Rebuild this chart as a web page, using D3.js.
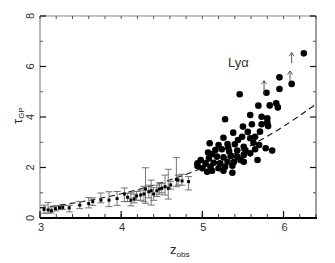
<!DOCTYPE html>
<html>
<head>
<meta charset="utf-8">
<script src="https://cdn.jsdelivr.net/npm/d3@7"></script>
<style>
  body { margin: 0; background: #fff; }
  svg { display: block; font-family: "Liberation Sans", Arial, sans-serif; }
</style>
</head>
<body>
<svg id="chart" width="335" height="263"></svg>
<script>
// high-z quasars (filled dots)
var zHi = [6.25, 6.10, 5.95, 5.95, 5.79, 5.46, 5.69, 5.83, 5.91, 5.93, 5.59, 5.73, 5.80, 5.80,
  5.28, 5.50, 5.61, 5.73, 5.81, 5.38, 5.26, 5.49, 5.71, 5.59, 5.09, 5.20, 5.31, 5.40, 5.51,
  5.63, 5.07, 5.16, 5.24, 5.33, 5.43, 5.53, 5.65, 4.98, 5.08, 5.18, 5.26, 5.35, 5.43, 5.51,
  5.59, 4.94, 5.04, 5.14, 5.22, 5.31, 5.39, 5.47, 5.00, 5.10, 5.20, 5.28, 5.37, 5.12, 5.37,
  5.26, 5.51, 5.68, 5.78, 5.86, 5.70, 5.65, 5.06, 4.94, 5.12, 5.32, 5.44, 5.56];
var tauHi = [6.52, 5.31, 5.57, 5.11, 4.96, 4.90, 4.45, 4.46, 4.54, 4.38, 4.08, 4.01, 3.95, 3.79,
  3.91, 3.62, 3.71, 3.71, 3.64, 3.38, 3.18, 3.22, 3.42, 3.16, 2.96, 2.89, 2.93, 2.92, 2.82,
  2.98, 2.59, 2.69, 2.72, 2.63, 2.67, 2.69, 2.72, 2.30, 2.36, 2.43, 2.40, 2.46, 2.43, 2.50,
  2.56, 2.17, 2.17, 2.19, 2.17, 2.23, 2.23, 2.30, 1.97, 2.03, 1.97, 2.03, 2.07, 1.87, 1.79,
  1.87, 2.23, 2.30, 2.76, 2.67, 2.89, 3.22, 1.83, 2.06, 2.53, 2.77, 3.09, 3.41];

// lower limits (arrows)
var zLim = [5.76, 6.08, 6.10];
var tauLimFrom = [4.87, 5.39, 6.13];
var tauLimTo = [5.44, 5.82, 6.55];

// low-z binned values with error bars
var zLo = [3.05, 3.10, 3.14, 3.19, 3.24, 3.28, 3.36, 3.49, 3.60, 3.65, 3.75, 3.85, 3.95, 4.04,
  4.08, 4.12, 4.16, 4.19, 4.24, 4.28, 4.30, 4.34, 4.37, 4.40, 4.44, 4.47, 4.50, 4.54, 4.58,
  4.61, 4.68, 4.70, 4.75, 4.83];
var tauLo = [0.34, 0.32, 0.29, 0.37, 0.41, 0.42, 0.40, 0.51, 0.57, 0.65, 0.71, 0.71, 0.77, 0.95,
  0.82, 0.71, 0.76, 0.87, 0.91, 0.95, 1.15, 1.04, 1.08, 0.95, 1.08, 1.15, 1.18, 1.24, 1.18,
  1.31, 1.53, 1.50, 1.47, 1.44];
var errLo = [0.19, 0.19, 0.20, 0.28, 0.33, 0.34, 0.24, 0.37, 0.40, 0.50, 0.60, 0.45, 0.50, 0.65,
  0.65, 0.48, 0.60, 0.70, 0.70, 0.65, 0.58, 0.80, 0.51, 0.70, 0.85, 0.94, 1.00, 0.91, 0.75,
  1.14, 1.24, 1.30, 1.30, 1.11];
var errHi = [0.51, 0.61, 0.40, 0.46, 0.50, 0.50, 0.50, 0.65, 0.81, 0.80, 0.99, 1.04, 1.05, 1.19,
  0.98, 1.00, 0.95, 1.05, 1.10, 1.25, 1.99, 1.30, 1.50, 1.20, 1.30, 1.40, 1.36, 1.70, 1.93,
  1.45, 2.39, 1.70, 1.73, 1.64];

// dashed model curve
var zModel = [3.0, 3.5, 4.0, 4.5, 5.0, 5.5, 6.0, 6.4];
var tauModel = [0.40, 0.64, 0.96, 1.40, 1.98, 2.71, 3.63, 4.51];

var xTicks = [3, 4, 5, 6];
var yTicks = [0, 2, 4, 6, 8];

var svg = d3.select("#chart");
var pL = 40, pR = 316, pT = 16, pB = 218;

var x = d3.scaleLinear().domain([3, 6.4]).range([pL, pR]);
var y = d3.scaleLinear().domain([0, 8]).range([pB, pT]);

var xMinor = d3.range(3, 6.41, 0.2);
var yMinor = [1, 3, 5, 7];

// frame
svg.append("line").attr("x1", pL).attr("x2", pL).attr("y1", pT).attr("y2", pB)
  .attr("stroke", "#888").attr("stroke-width", 1.2);
svg.append("line").attr("x1", pL).attr("x2", pR).attr("y1", pT).attr("y2", pT)
  .attr("stroke", "#888").attr("stroke-width", 1.2);
svg.append("line").attr("x1", pR).attr("x2", pR).attr("y1", pT).attr("y2", pB)
  .attr("stroke", "#888").attr("stroke-width", 1.6);

// ticks
function tickLines(vals, fn, col, w) {
  vals.forEach(function(v) {
    var c = fn(v);
    svg.append("line").attr("x1", c[0]).attr("y1", c[1]).attr("x2", c[2]).attr("y2", c[3])
      .attr("stroke", col).attr("stroke-width", w);
  });
}
tickLines(xMinor, function(v) { return [x(v), pB, x(v), pB - 4]; }, "#333", 1);
tickLines(xMinor, function(v) { return [x(v), pT, x(v), pT + 3]; }, "#555", 1);
tickLines(yMinor, function(v) { return [pL, y(v), pL + 3, y(v)]; }, "#555", 1);
tickLines(yMinor, function(v) { return [pR, y(v), pR - 3, y(v)]; }, "#555", 1);
tickLines(yTicks, function(v) { return [pL, y(v), pL + 6, y(v)]; }, "#111", 1.2);
tickLines(yTicks, function(v) { return [pR, y(v), pR - 6, y(v)]; }, "#111", 1.2);
tickLines(xTicks, function(v) { return [x(v), pB, x(v), pB - 7]; }, "#111", 1.2);

svg.append("line").attr("x1", pL).attr("x2", pR + 1).attr("y1", pB).attr("y2", pB)
  .attr("stroke", "#000").attr("stroke-width", 2);

// tick labels
svg.selectAll(".xl").data(xTicks).enter().append("text")
  .attr("x", function(d) { return x(d) + 1; }).attr("y", 231)
  .attr("text-anchor", "middle").attr("font-size", 11).attr("fill", "#333")
  .text(function(d) { return d; });
svg.selectAll(".yl").data(yTicks).enter().append("text")
  .attr("transform", function(d) { return "translate(34," + y(d) + ") rotate(-90)"; })
  .attr("text-anchor", "middle").attr("font-size", 11).attr("fill", "#333")
  .text(function(d) { return d; });

// axis titles
var yt = svg.append("text").attr("transform", "translate(22,124) rotate(-90)")
  .attr("font-size", 13).attr("fill", "#222");
yt.append("tspan").text("τ");
yt.append("tspan").attr("font-size", 8).attr("dy", 2).text("GP");

var xt = svg.append("text").attr("x", 170).attr("y", 254).attr("font-size", 13).attr("fill", "#222");
xt.append("tspan").text("z");
xt.append("tspan").attr("font-size", 8).attr("dy", 3).text("obs");

svg.append("text").attr("x", 228).attr("y", 67).attr("font-size", 13).attr("fill", "#333")
  .text("Lyα");

// model curve
var line = d3.line().x(function(d) { return x(d[0]); }).y(function(d) { return y(d[1]); })
  .curve(d3.curveMonotoneX);
svg.append("path").datum(d3.zip(zModel, tauModel)).attr("d", line)
  .attr("fill", "none").attr("stroke", "#111").attr("stroke-width", 1.1)
  .attr("stroke-dasharray", "6,4");

// error bars
var eb = svg.append("g").attr("stroke", "#666").attr("stroke-width", 0.9);
zLo.forEach(function(z, i) {
  eb.append("line").attr("x1", x(z)).attr("x2", x(z)).attr("y1", y(errLo[i])).attr("y2", y(errHi[i]));
  eb.append("line").attr("x1", x(z) - 3.5).attr("x2", x(z) + 3.5).attr("y1", y(errLo[i])).attr("y2", y(errLo[i]));
  eb.append("line").attr("x1", x(z) - 3.5).attr("x2", x(z) + 3.5).attr("y1", y(errHi[i])).attr("y2", y(errHi[i]));
});
svg.selectAll(".lo").data(d3.zip(zLo, tauLo)).enter().append("rect")
  .attr("x", function(d) { return x(d[0]) - 1.5; }).attr("y", function(d) { return y(d[1]) - 1.5; })
  .attr("width", 3).attr("height", 3).attr("fill", "#000");

// high-z dots
svg.selectAll(".hi").data(d3.zip(zHi, tauHi)).enter().append("circle")
  .attr("cx", function(d) { return x(d[0]); }).attr("cy", function(d) { return y(d[1]); })
  .attr("r", 3.3).attr("fill", "#000");

// lower-limit arrows
zLim.forEach(function(z, i) {
  var x0 = x(z), y0 = y(tauLimFrom[i]), y1 = y(tauLimTo[i]);
  svg.append("line").attr("x1", x0).attr("x2", x0).attr("y1", y0).attr("y2", y1)
    .attr("stroke", "#444").attr("stroke-width", 0.9);
  svg.append("path").attr("d", "M" + (x0 - 2.5) + "," + (y1 + 3.5) + "L" + x0 + "," + y1 + "L" + (x0 + 2.5) + "," + (y1 + 3.5))
    .attr("fill", "none").attr("stroke", "#444").attr("stroke-width", 0.9);
});
</script>
</body>
</html>
